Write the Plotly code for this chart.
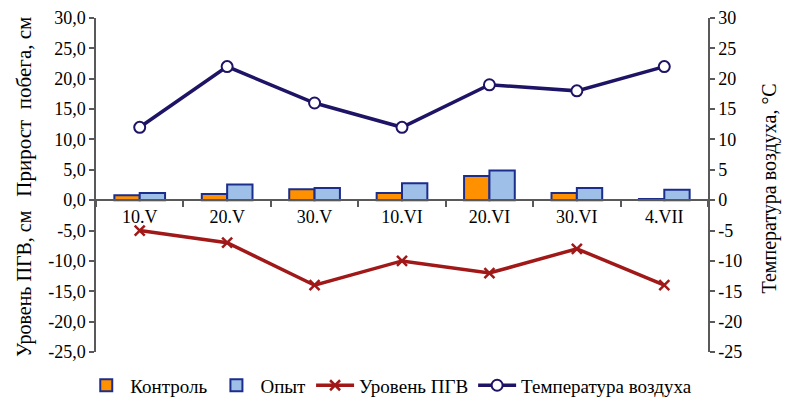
import plotly.graph_objects as go

categories = ["10.V", "20.V", "30.V", "10.VI", "20.VI", "30.VI", "4.VII"]
control = [0.8, 1.0, 1.8, 1.2, 4.0, 1.2, 0.2]
opyt = [1.2, 2.6, 2.0, 2.8, 4.9, 2.0, 1.7]
pgv = [-5, -7, -14, -10, -12, -8, -14]
temp = [12, 22, 16, 12, 19, 18, 22]

left_vals = [30, 25, 20, 15, 10, 5, 0, -5, -10, -15, -20, -25]
left_text = ["30,0", "25,0", "20,0", "15,0", "10,0", "5,0", "0,0", "-5,0", "-10,0", "-15,0", "-20,0", "-25,0"]
right_text = ["30", "25", "20", "15", "10", "5", "0", "-5", "-10", "-15", "-20", "-25"]

FONT = "Liberation Serif"
AXC = "#595959"

fig = go.Figure()
fig.add_trace(go.Bar(x=categories, y=control, name="Контроль",
                     marker=dict(color="#FF9100", line=dict(color="#1C2E8C", width=2))))
fig.add_trace(go.Bar(x=categories, y=opyt, name="Опыт",
                     marker=dict(color="#9DBFE8", line=dict(color="#1C2E8C", width=2))))
fig.add_trace(go.Scatter(x=categories, y=pgv, name="Уровень ПГВ", mode="lines+markers",
                         line=dict(color="#A01818", width=3.5),
                         marker=dict(symbol="x-thin", size=10, line=dict(color="#A01818", width=2.5))))
fig.add_trace(go.Scatter(x=categories, y=temp, name="Температура воздуха", mode="lines+markers",
                         yaxis="y2",
                         line=dict(color="#1E1466", width=3.5),
                         marker=dict(symbol="circle", size=11, color="white",
                                     line=dict(color="#1E1466", width=2))))

fig.update_layout(
    width=788, height=401,
    margin=dict(l=96, r=80, t=18, b=49, autoexpand=False),
    plot_bgcolor="white", paper_bgcolor="white",
    font=dict(family=FONT, size=17, color="black"),
    barmode="group", bargap=0.42, bargroupgap=0.0,
    separators=", ",
    showlegend=True,
    legend=dict(orientation="h", x=0.48, xanchor="center", y=-0.1, yanchor="middle",
                font=dict(family=FONT, size=19), itemwidth=38, traceorder="normal"),
    xaxis=dict(type="category", anchor="free", position=25 / 55, showline=True,
               linecolor=AXC, linewidth=1.5, ticks="outside", tickson="boundaries",
               ticklen=6, tickcolor=AXC, tickwidth=1.5, showgrid=False,
               tickfont=dict(family=FONT, size=18), zeroline=False, automargin=False),
    yaxis=dict(range=[-25, 30], tickvals=left_vals, ticktext=left_text, showline=True,
               linecolor=AXC, linewidth=1.5, ticks="outside", ticklen=5, tickcolor=AXC,
               tickwidth=1.5, showgrid=False, zeroline=False, automargin=False,
               tickfont=dict(family=FONT, size=18)),
    yaxis2=dict(range=[-25, 30], tickvals=left_vals, ticktext=right_text, overlaying="y",
                side="right", showline=True, linecolor=AXC, linewidth=1.5, ticks="outside",
                ticklen=5, tickcolor=AXC, tickwidth=1.5, showgrid=False, zeroline=False,
                automargin=False, tickfont=dict(family=FONT, size=18)),
)

fig.add_annotation(text="Прирост  побега, см", xref="paper", yref="paper", x=-0.118, y=0.734,
                   textangle=-90, showarrow=False, font=dict(family=FONT, size=21),
                   xanchor="center", yanchor="middle")
fig.add_annotation(text="Уровень ПГВ, см", xref="paper", yref="paper", x=-0.118, y=0.206,
                   textangle=-90, showarrow=False, font=dict(family=FONT, size=20),
                   xanchor="center", yanchor="middle")
fig.add_annotation(text="Температура воздуха, °С", xref="paper", yref="paper", x=1.1, y=0.49,
                   textangle=-90, showarrow=False, font=dict(family=FONT, size=20),
                   xanchor="center", yanchor="middle")

fig.write_html("out.html", config={"displayModeBar": False},
               post_script="document.body.style.margin='0';")
